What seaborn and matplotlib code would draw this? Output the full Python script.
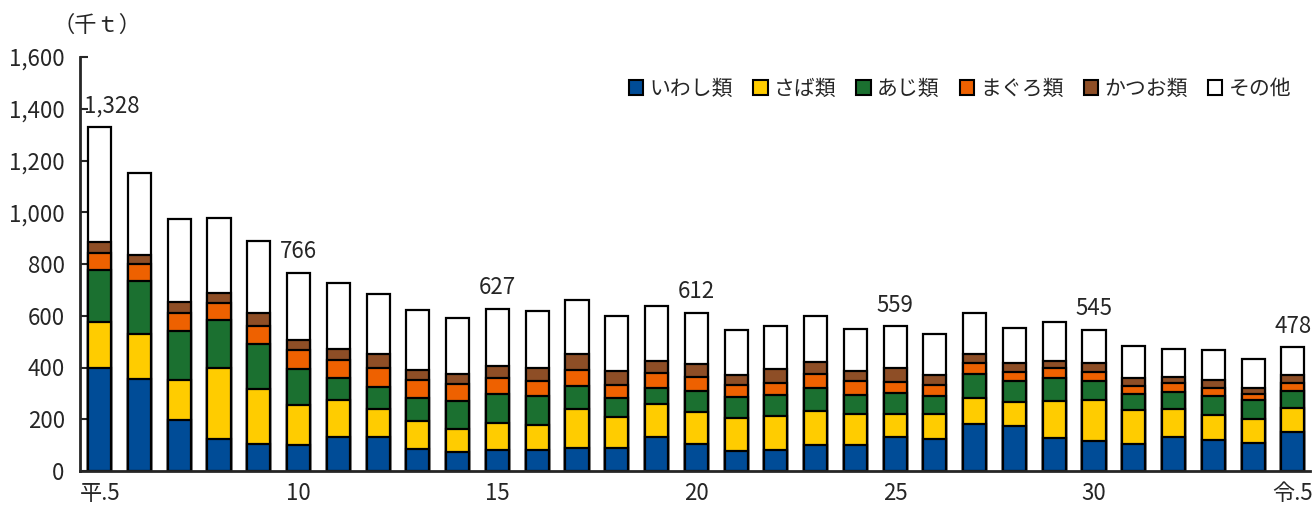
import matplotlib
matplotlib.use("Agg")
import matplotlib.pyplot as plt
import numpy as np
import pandas as pd
import seaborn as sns
from matplotlib.patches import Patch

years = ["平.5"] + [str(i) for i in range(6, 31)] + ["令.1", "令.2", "令.3", "令.4", "令.5"]
iwashi = [398, 356, 196, 123, 106, 99, 132, 132, 85, 74, 80, 80, 87, 87, 132, 106,
          76, 80, 101, 101, 130, 124, 182, 174, 127, 115, 106, 132, 119, 110, 151]
saba = [177, 172, 154, 276, 209, 155, 142, 109, 108, 87, 105, 98, 151, 122, 126, 121,
        128, 133, 130, 120, 91, 97, 101, 92, 144, 161, 129, 107, 99, 91, 94]
aji = [202, 206, 191, 183, 174, 142, 84, 84, 90, 110, 111, 110, 91, 74, 61, 83,
       81, 81, 88, 73, 79, 69, 92, 81, 89, 72, 62, 66, 71, 73, 66]
maguro = [67, 65, 68, 68, 72, 70, 70, 75, 68, 67, 64, 59, 61, 51, 60, 53,
          49, 48, 54, 52, 43, 44, 43, 35, 39, 35, 32, 36, 32, 22, 30]
katsuo = [42, 36, 43, 37, 48, 39, 43, 52, 39, 37, 46, 52, 62, 53, 46, 49,
          38, 53, 47, 40, 54, 38, 35, 35, 27, 33, 30, 24, 30, 25, 29]
sonota = [442, 317, 321, 291, 280, 261, 254, 232, 232, 215, 221, 218, 210, 213, 212, 200,
          171, 165, 179, 162, 162, 157, 157, 135, 148, 129, 125, 107, 117, 110, 108]

series_names = ["いわし類", "さば類", "あじ類", "まぐろ類", "かつお類", "その他"]
series_colors = ["#004C97", "#FFCC00", "#1B7030", "#EE6100", "#8E4E26", "#FFFFFF"]

label_idx = [0, 5, 10, 15, 20, 25, 30]
label_text = ["1,328", "766", "627", "612", "559", "545", "478"]
tick_idx = [0, 5, 10, 15, 20, 25, 30]
tick_text = ["平.5", "10", "15", "20", "25", "30", "令.5"]

sns.set_style("ticks")
plt.rcParams["font.family"] = ["Noto Sans CJK JP", "DejaVu Sans"]

data = np.array([iwashi, saba, aji, maguro, katsuo, sonota])
cum = np.cumsum(data, axis=0)

fig = plt.figure(figsize=(13.14, 5.08), dpi=100)
ax = fig.add_axes([80 / 1314, 37 / 508, 1230 / 1314, 414 / 508])

order = list(range(len(years)))
# draw from top (total) down so the stacked look is built from overlapping bars
for k in range(len(series_names) - 1, -1, -1):
    df = pd.DataFrame({"x": order, "y": cum[k]})
    sns.barplot(data=df, x="x", y="y", order=order, color=series_colors[k],
                saturation=1, width=0.58, edgecolor="black", linewidth=1.6, ax=ax)

totals = cum[-1]
for i, t in zip(label_idx, label_text):
    xo = 0.3 if i == 0 else 0.0
    ax.annotate(t, (i + xo, totals[i]), xytext=(0, 7), textcoords="offset points",
                ha="center", va="bottom", fontsize=16)

ax.set_xlim(-0.495, 30.43)
ax.set_ylim(0, 1600)
ax.set_yticks(range(0, 1601, 200))
ax.set_yticklabels([f"{v:,}" for v in range(0, 1601, 200)], fontsize=16)
ax.set_xticks(tick_idx)
ax.set_xticklabels(tick_text, fontsize=16)
ax.tick_params(axis="y", direction="in", length=6, width=1.5, pad=11)
ax.tick_params(axis="x", length=0, pad=8)
ax.set_xlabel("")
ax.set_ylabel("")
for s in ["top", "right"]:
    ax.spines[s].set_visible(False)
for s in ["left", "bottom"]:
    ax.spines[s].set_linewidth(2)

handles = [Patch(facecolor=c, edgecolor="black", linewidth=1.5, label=n)
           for n, c in zip(series_names, series_colors)]
ax.legend(handles=handles, loc="upper right", bbox_to_anchor=(1.0, 0.995), ncol=6,
          frameon=False, fontsize=15, handlelength=0.7, handleheight=0.7,
          handletextpad=0.3, columnspacing=0.95)

fig.text(52 / 1314, 1 - 25 / 508, "（千ｔ）", fontsize=16, va="center", ha="left")

fig.savefig("out.png", dpi=100)
